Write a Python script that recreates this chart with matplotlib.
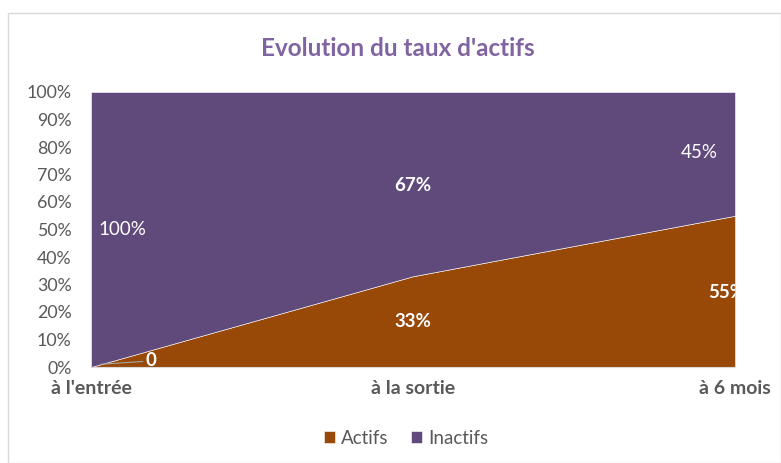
import matplotlib.pyplot as plt
from matplotlib.patches import Rectangle
from matplotlib.ticker import PercentFormatter

# =========================
# DATA
# =========================

etapes = ["à l'entrée", "à la sortie", "à 6 mois"]
actifs = [0, 33, 55]
inactifs = [100, 67, 45]

col_actifs = "#984807"
col_inactifs = "#604A7B"
gris = "#595959"

plt.rcParams["font.family"] = ["Lato", "DejaVu Sans"]

# =========================
# FIGURE
# =========================

fig = plt.figure(figsize=(7.81, 4.63), dpi=100)
fig.patches.append(Rectangle((8 / 781, 0), 1 - 8 / 781, 1 - 13 / 463,
                             transform=fig.transFigure, fill=False,
                             edgecolor="#d9d9d9", linewidth=1))

ax = fig.add_axes([91 / 781, 1 - 367 / 463, (735 - 91) / 781, (367 - 92) / 463])
x = range(len(etapes))
ax.stackplot(x, actifs, inactifs, colors=[col_actifs, col_inactifs],
             labels=["Actifs", "Inactifs"], edgecolor="white", linewidth=0.4)

ax.set_xlim(0, 2)
ax.set_ylim(0, 100)
ax.set_yticks(range(0, 101, 10))
ax.yaxis.set_major_formatter(PercentFormatter(decimals=0))
ax.set_xticks(list(x))
ax.set_xticklabels(etapes, fontweight="bold")
ax.tick_params(axis="y", length=0, labelsize=12.8, labelcolor=gris, pad=14)
ax.tick_params(axis="x", length=0, labelsize=14, labelcolor=gris, pad=9)
for s in ["top", "right", "left"]:
    ax.spines[s].set_visible(False)
ax.spines["bottom"].set_color("#d9d9d9")

# =========================
# LABELS
# =========================

ax.plot([0.03, 0.16], [1, 2], color="#a6a6a6", linewidth=0.8)
ax.text(0.17, 2.5, "0", color="white", fontsize=13.5, fontweight="bold", va="center")
ax.text(1, actifs[1] / 2, f"{actifs[1]}%", color="white", fontsize=13.5,
        fontweight="bold", ha="center", va="center")
ax.text(1.975, 27, f"{actifs[2]}%", color="white", fontsize=13.5,
        fontweight="bold", ha="center", va="center", clip_on=True)

ax.text(0.022, 50, f"{inactifs[0]}%", color="white", fontsize=13.5, va="center")
ax.text(1, 66, f"{inactifs[1]}%", color="white", fontsize=13.5,
        fontweight="bold", ha="center", va="center")
ax.text(1.89, 78, f"{inactifs[2]}%", color="white", fontsize=13.5,
        ha="center", va="center")

fig.text(0.51, 1 - 48 / 463, "Evolution du taux d'actifs", ha="center",
         va="center", fontsize=17.5, fontweight="bold", color="#8064A2")

fig.legend(loc="center", bbox_to_anchor=(0.52, 1 - 438 / 463), ncol=2,
           frameon=False, fontsize=13.5, labelcolor=gris, handlelength=0.6,
           handleheight=0.6, columnspacing=1.2, handletextpad=0.3)

plt.savefig("out.png", dpi=100)
